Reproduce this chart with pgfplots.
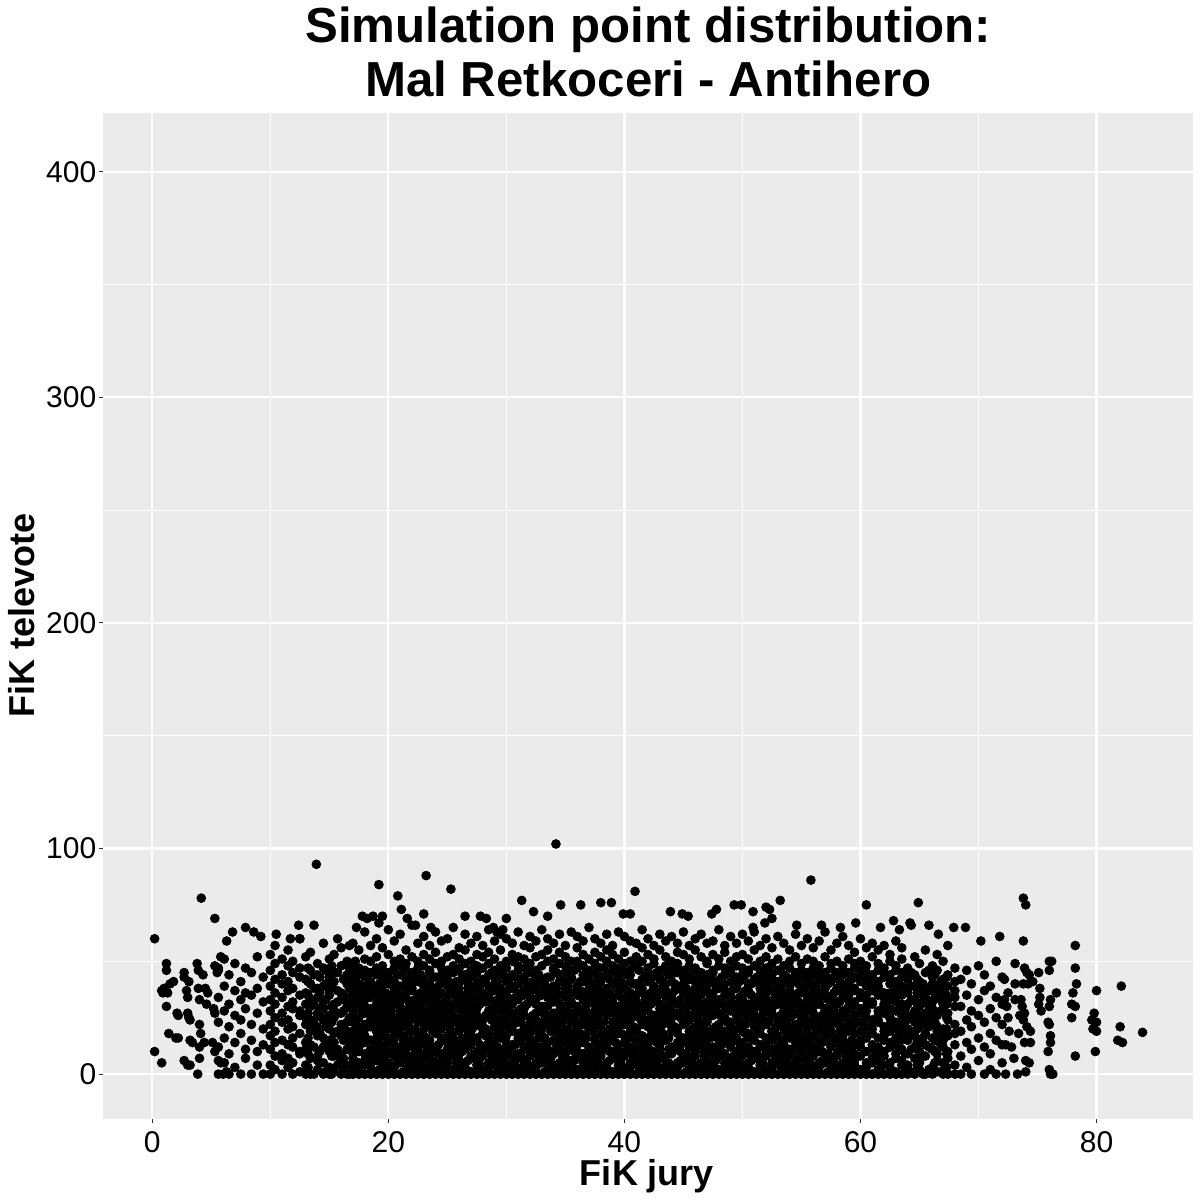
\documentclass[border=0pt]{standalone}
\usepackage{fontspec}
\setmainfont{Liberation Sans}
\usepackage{pgfplots}
\pgfplotsset{compat=1.18}
\usepackage{pgfplotstable}
\definecolor{panel}{HTML}{EBEBEB}
\definecolor{tickc}{HTML}{333333}
\pgfplotsset{pt/.style={only marks, mark=*, mark size=2.2pt, draw=black, fill=black, mark options={draw=black, fill=black}}}
% dense core of the cloud, x 17 to 63.5
\pgfplotstableread{
x a1 a2 a3 a4 a5 a6 a7 a8 a9 a10 a11 a12 a13 a14 a15 a16 a17 a18
17.0 0 3 7 9 13 16 19 23 26 28 32 35 38 42 45 49 58 0
17.5 0 2 5 10 12 15 18 21 25 29 31 34 37 40 44 47 55 0
18.0 0 4 6 9 14 17 20 22 27 30 33 36 39 43 46 51 63 0
18.5 0 3 5 8 11 15 21 24 26 29 34 37 40 41 45 50 57 0
19.0 0 1 6 10 13 16 19 23 25 28 31 35 38 44 47 52 60 0
19.5 0 4 7 11 12 17 18 22 27 30 33 36 39 42 46 48 56 0
20.0 0 2 5 9 14 15 20 24 26 29 32 34 40 43 45 53 64 0
20.5 0 3 8 10 13 16 19 21 25 31 33 37 38 41 47 50 59 0
21.0 0 5 6 9 12 18 20 23 28 30 32 35 39 44 48 51 62 0
21.5 0 2 7 11 14 17 21 22 24 27 34 36 40 42 46 49 55 0
22.0 0 4 5 8 13 15 19 25 26 29 31 37 38 43 45 52 66 0
22.5 0 3 6 10 12 16 18 23 27 30 33 35 41 44 47 50 58 0
23.0 0 1 7 9 14 17 20 22 25 28 32 36 39 42 48 53 61 0
23.5 0 4 8 11 13 15 21 24 26 31 34 37 40 45 46 51 57 0
24.0 0 2 5 10 12 18 19 23 28 29 33 35 38 43 49 54 63 0
24.5 0 3 6 9 15 16 20 22 25 30 31 36 41 44 47 50 59 0
25.0 0 5 7 11 14 17 21 24 27 28 32 34 39 42 46 52 60 0
25.5 0 2 8 10 13 16 18 23 26 30 35 37 40 45 48 53 65 0
26.0 0 4 6 9 12 19 20 22 25 29 33 36 38 41 47 51 56 0
26.5 0 3 5 11 14 15 21 24 27 31 32 35 42 44 49 55 62 0
27.0 0 1 7 8 13 17 19 23 28 30 34 37 39 43 46 50 58 0
27.5 0 4 6 10 15 16 22 25 26 29 31 38 40 45 48 53 61 0
28.0 0 2 8 9 12 18 20 21 24 32 33 36 41 42 47 52 57 0
28.5 0 3 5 11 14 17 19 26 27 28 35 34 39 44 49 54 64 0
29.0 0 5 7 10 13 15 21 23 25 31 32 37 40 43 46 51 59 0
29.5 0 2 6 9 16 18 20 24 28 30 33 36 38 45 48 55 62 0
30.0 0 4 8 12 14 17 22 22 26 29 34 35 41 42 47 50 60 0
30.5 0 3 5 10 13 19 21 25 27 31 32 38 39 44 50 53 58 0
31.0 0 1 7 9 15 16 18 23 24 28 33 36 40 46 48 52 63 0
31.5 0 4 6 11 12 17 20 26 29 30 35 37 42 43 47 51 57 0
32.0 0 2 8 10 14 18 19 22 25 32 34 36 39 45 49 56 61 0
32.5 0 3 5 9 13 15 21 24 27 31 33 38 41 44 46 52 59 0
33.0 0 5 7 12 16 17 20 23 28 29 30 35 40 42 48 53 64 0
33.5 0 2 6 8 11 14 22 25 26 30 34 37 38 43 50 55 60 0
34.0 0 4 9 10 15 19 21 24 27 32 33 36 39 46 47 51 58 0
34.5 0 3 5 11 13 16 18 22 25 28 31 35 41 44 49 54 62 0
35.0 0 1 7 9 14 17 20 26 29 30 34 38 40 45 48 52 57 0
35.5 0 4 6 12 15 18 23 24 27 31 32 36 42 43 46 50 63 0
36.0 0 2 8 10 13 16 19 21 28 30 35 37 39 47 50 56 61 0
36.5 0 3 5 9 14 17 22 25 26 29 33 36 41 44 48 53 59 0
37.0 0 5 7 11 12 19 20 23 27 32 34 38 40 42 46 51 65 0
37.5 0 2 6 10 15 16 21 24 25 28 31 35 39 45 49 54 60 0
38.0 0 4 8 9 13 18 22 22 29 30 33 37 41 43 47 52 58 0
38.5 0 3 5 12 14 17 19 26 27 31 36 36 38 44 50 55 62 0
39.0 0 1 7 10 16 15 20 23 28 29 32 34 40 46 48 53 57 0
39.5 0 4 6 11 13 18 21 25 24 30 35 37 42 43 47 51 63 0
40.0 0 2 9 8 14 17 23 22 26 32 33 38 39 45 49 54 61 0
40.5 0 3 5 10 12 16 19 24 28 31 34 36 41 44 46 50 59 0
41.0 0 5 7 11 15 19 20 26 27 29 32 35 40 47 48 52 58 0
41.5 0 2 6 9 13 17 22 23 25 30 36 37 38 42 50 56 64 0
42.0 0 4 8 12 14 16 21 24 28 31 33 34 41 45 47 53 60 0
42.5 0 3 5 10 15 18 19 22 26 32 35 38 39 44 49 51 57 0
43.0 0 1 7 11 13 17 20 25 27 29 31 36 42 43 46 55 62 0
43.5 0 4 6 8 16 15 23 24 29 30 34 37 40 46 48 52 59 0
44.0 0 2 9 10 12 19 21 22 25 28 33 35 41 44 47 50 61 0
44.5 0 3 5 11 14 18 20 26 27 31 32 38 39 45 49 54 58 0
45.0 0 5 7 9 15 16 22 23 28 30 36 37 40 43 46 53 63 0
45.5 0 2 6 12 13 17 19 24 26 32 34 35 42 44 48 51 57 0
46.0 0 4 8 10 14 18 21 25 27 29 33 38 41 46 47 55 60 0
46.5 0 3 5 11 16 15 20 22 28 31 35 36 39 43 45 52 62 0
47.0 0 1 7 9 13 19 23 24 25 30 32 37 40 44 49 50 58 0
47.5 0 4 6 10 12 17 20 26 29 28 34 36 42 45 46 53 59 0
48.0 0 2 8 11 15 16 22 21 27 31 33 38 39 41 48 51 64 0
48.5 0 3 5 9 14 18 19 25 24 30 35 37 40 44 47 54 57 0
49.0 0 5 7 12 13 17 21 23 28 32 34 36 41 45 46 50 61 0
49.5 0 2 6 10 16 15 20 24 26 29 31 38 39 43 48 52 58 0
50.0 0 4 8 11 14 19 22 22 27 30 33 35 42 44 47 53 62 0
50.5 0 3 5 9 12 16 18 25 28 31 36 37 40 46 45 51 59 0
51.0 0 1 7 10 15 17 21 23 26 29 32 34 41 42 48 55 63 0
51.5 0 4 6 12 13 18 20 24 25 30 35 38 39 44 46 50 57 0
52.0 0 2 9 8 14 16 23 22 28 32 33 36 40 43 47 52 60 0
52.5 0 3 5 11 15 19 19 26 27 29 31 37 42 45 44 49 56 0
53.0 0 5 7 10 12 17 22 24 25 31 34 35 38 41 46 51 61 0
53.5 0 2 6 9 13 15 20 23 28 30 33 36 40 44 43 48 58 0
54.0 0 4 8 11 16 18 21 25 26 29 32 37 39 42 47 50 55 0
54.5 0 3 5 12 14 17 19 22 27 31 35 34 41 45 44 52 62 0
55.0 0 1 7 10 13 16 23 24 25 28 30 36 38 43 46 49 57 0
55.5 0 4 6 9 15 18 20 21 29 32 33 35 40 41 45 51 60 0
56.0 0 2 8 11 12 17 22 26 27 30 34 37 39 44 47 50 56 0
56.5 0 3 5 10 14 19 21 23 24 31 32 36 42 43 46 48 59 0
57.0 0 5 7 9 16 15 20 25 28 29 35 38 40 45 44 52 63 0
57.5 0 2 6 12 13 18 19 22 26 30 33 34 41 42 47 49 55 0
58.0 0 4 9 8 14 16 23 24 27 32 31 37 38 43 45 50 58 0
58.5 0 3 5 11 15 17 21 25 25 28 34 36 39 44 46 48 61 0
59.0 0 1 7 10 12 19 20 22 29 30 33 35 40 41 45 51 57 0
59.5 0 4 6 9 13 18 22 24 26 31 32 37 38 43 47 49 54 0
60.0 0 2 8 12 14 15 19 23 27 29 34 36 41 44 46 50 60 0
60.5 0 3 5 10 16 17 21 25 28 30 33 35 39 42 45 48 56 0
61.0 0 5 7 11 13 18 20 22 24 31 32 37 40 43 44 52 58 0
61.5 0 2 6 9 12 16 23 24 26 28 35 38 39 41 46 49 55 0
62.0 0 4 8 10 15 17 19 21 27 30 31 34 36 45 43 47 57 0
62.5 0 3 5 12 14 19 22 25 25 29 33 36 40 42 44 50 53 0
63.0 0 1 7 9 13 16 20 23 28 32 34 37 38 41 46 48 59 0
63.5 0 4 6 11 15 18 21 24 26 30 31 35 39 43 45 51 56 0
}\coreA
% densest part, x 19.25 to 59.25
\pgfplotstableread{
x f1 f2 f3 f4 f5 f6 f7
19.25 2 8 14 20 26 33 40
19.75 5 11 17 24 30 36 43
20.25 3 10 16 22 28 35 41
20.75 6 12 19 25 31 38 44
21.25 1 9 15 21 27 34 39
21.75 4 7 13 23 29 32 42
22.25 2 11 14 20 25 33 41
22.75 5 8 17 24 31 36 44
23.25 3 12 16 22 28 34 40
23.75 6 10 19 26 30 38 43
24.25 1 9 13 21 27 35 39
24.75 4 7 15 23 29 32 42
25.25 2 8 18 20 26 37 45
25.75 5 11 14 24 32 36 41
26.25 3 10 16 22 28 33 44
26.75 6 12 19 25 30 38 40
27.25 1 9 15 21 27 34 43
27.75 4 7 13 23 31 35 39
28.25 2 11 17 20 26 32 42
28.75 5 8 14 24 29 37 45
29.25 3 12 18 22 28 33 41
29.75 6 10 16 26 30 36 44
30.25 1 9 19 21 32 38 40
30.75 4 7 13 25 27 34 43
31.25 2 8 15 23 29 35 42
31.75 5 11 17 20 31 39 46
32.25 3 12 14 24 26 33 41
32.75 6 10 18 22 28 36 44
33.25 1 9 16 26 30 37 40
33.75 4 7 19 21 32 34 43
34.25 2 11 13 25 27 38 45
34.75 5 8 15 23 29 35 42
35.25 3 12 17 20 31 33 39
35.75 6 10 14 24 26 36 46
36.25 1 9 18 22 28 37 41
36.75 4 7 16 26 30 34 44
37.25 2 8 19 21 32 38 40
37.75 5 11 13 25 27 35 43
38.25 3 12 15 23 29 33 47
38.75 6 10 17 20 31 36 42
39.25 1 9 14 24 26 39 45
39.75 4 7 18 22 28 34 41
40.25 2 11 16 26 30 37 44
40.75 5 8 19 21 32 35 40
41.25 3 12 13 25 27 38 46
41.75 6 10 15 23 29 33 43
42.25 1 9 17 20 31 36 42
42.75 4 7 14 24 26 34 45
43.25 2 8 18 22 28 39 41
43.75 5 11 16 26 30 35 44
44.25 3 12 19 21 32 37 40
44.75 6 10 13 25 27 33 46
45.25 1 9 15 23 29 38 43
45.75 4 7 17 20 31 36 42
46.25 2 11 14 24 26 34 45
46.75 5 8 18 22 28 37 41
47.25 3 12 16 26 30 35 44
47.75 6 10 19 21 32 39 40
48.25 1 9 13 25 27 33 43
48.75 4 7 15 23 29 36 46
49.25 2 8 17 20 31 38 42
49.75 5 11 14 24 26 34 41
50.25 3 12 18 22 28 37 44
50.75 6 10 16 26 30 35 40
51.25 1 9 19 21 32 33 43
51.75 4 7 13 25 27 36 42
52.25 2 11 15 23 29 38 45
52.75 5 8 17 20 31 34 41
53.25 3 12 14 24 26 37 39
53.75 6 10 18 22 28 35 43
54.25 1 9 16 26 30 33 42
54.75 4 7 19 21 32 36 40
55.25 2 8 13 25 27 38 44
55.75 5 11 15 23 29 34 41
56.25 3 12 17 20 31 37 39
56.75 6 10 14 24 26 35 42
57.25 1 9 18 22 28 33 40
57.75 4 7 16 26 30 36 43
58.25 2 11 19 21 32 38 41
58.75 5 8 13 25 27 34 39
59.25 3 12 15 23 29 37 42
}\coreF
% shoulders, x 10 to 16.5 and 64 to 68
\pgfplotstableread{
x b1 b2 b3 b4 b5 b6 b7 b8 b9 b10
10.0 0 4 11 17 22 28 33 39 46 53
10.4 2 8 14 19 25 31 36 42 49 57
11.0 0 6 9 15 23 27 34 40 44 51
11.5 3 7 13 20 24 30 37 41 48 55
11.9 0 5 12 16 21 29 32 38 45 50
12.5 1 9 10 18 26 28 35 43 47 60
13.0 0 4 11 14 22 25 31 36 42 52
13.4 0 7 13 19 23 30 33 40 46 54
14.0 2 6 8 17 21 27 34 38 44 49
14.5 0 5 12 16 24 29 32 39 47 58
15.0 0 3 10 15 20 26 35 37 43 51
15.4 1 8 14 18 25 28 31 41 45 53
16.0 0 6 9 17 22 27 33 36 48 56
16.5 0 4 11 19 23 30 34 40 44 50
64.0 0 4 9 15 20 26 31 36 42 47
64.6 0 7 12 17 23 28 33 39 44 52
65.0 2 5 10 14 21 25 30 37 41 49
65.5 0 8 13 18 22 27 34 38 45 55
66.1 0 3 11 16 24 29 32 40 43 48
66.5 1 6 9 19 21 26 35 36 46 53
67.0 0 5 12 15 20 28 31 38 42 50
67.4 0 7 10 17 24 27 33 39 44 57
68.0 0 4 13 18 22 30 34 37 41 47
}\shoulderB
% transition between shoulders and core
\pgfplotstableread{
x e1 e2 e3 e4 e5 e6 e7
13.2 3 9 16 27 35 41 47
13.7 0 12 20 24 31 38 44
14.2 5 10 18 26 29 36 43
14.7 1 14 21 25 33 40 46
15.2 0 8 13 23 30 39 48
15.7 4 11 19 27 32 37 45
16.2 2 7 15 21 28 35 42
16.7 0 13 17 25 33 38 47
17.2 5 10 20 29 34 41 50
63.8 3 9 17 23 29 38 44
64.3 1 11 19 25 33 39 45
64.8 4 14 20 27 31 36 42
65.3 0 8 16 24 32 35 40
65.8 2 12 21 26 30 37 46
66.3 5 10 15 23 34 39 44
66.8 1 13 18 28 33 36 41
67.3 3 9 20 25 31 35 43
}\transE
% sparse flanks, x 5.6 to 9.4 and 68.5 to 72
\pgfplotstableread{
x c1 c2 c3 c4 c5
5.6 0 12 23 34 46
6.1 5 16 28 39 51
6.5 0 9 21 31 44
7.0 3 14 26 37 49
7.5 0 18 24 33 41
7.9 7 11 29 36 47
8.4 0 15 22 35 45
8.9 4 10 27 38 52
9.4 0 13 20 32 43
68.5 0 8 19 30 42
69.0 3 14 24 35 46
69.4 0 11 21 28 40
70.0 6 16 26 33 48
70.5 0 12 23 37 44
71.0 2 9 18 29 39
71.5 0 15 25 34 50
72.0 5 13 22 31 43
}\flankC
\begin{document}
\begin{tikzpicture}
\useasboundingbox (-51.65pt,-40.5pt) rectangle (548.35pt,559.5pt);
\begin{axis}[
  at={(0pt,0pt)}, anchor=south west, scale only axis,
  width=545pt, height=502.85pt,
  xmin=-4.15, xmax=88.2, ymin=-19.9, ymax=425.9,
  axis background/.style={fill=panel},
  axis line style={draw=none},
  xtick={0,20,40,60,80}, ytick={0,100,200,300,400},
  minor xtick={10,30,50,70}, minor ytick={50,150,250,350},
  grid=both,
  major grid style={white, line width=1.1pt},
  minor grid style={white, line width=0.55pt},
  tick align=outside, tick pos=left,
  major tick length=2pt, minor tick length=0pt,
  tick style={tickc, line width=0.5pt},
  /pgf/number format/assume math mode=true,
  ticklabel style={font=\fontsize{15}{17}\selectfont, text=black, inner sep=0pt},
  xticklabel style={anchor=base, yshift=-14.5pt},
  yticklabel style={anchor=east, xshift=-1.3pt},
  clip=false,
]
\pgfplotsinvokeforeach{1,...,18}{
  \addplot[pt] table[x=x, y=a#1]{\coreA};
}
\pgfplotsinvokeforeach{1,...,7}{
  \addplot[pt] table[x=x, y=f#1]{\coreF};
}
\pgfplotsinvokeforeach{1,...,10}{
  \addplot[pt] table[x=x, y=b#1]{\shoulderB};
}
\pgfplotsinvokeforeach{1,...,7}{
  \addplot[pt] table[x=x, y=e#1]{\transE};
}
\pgfplotsinvokeforeach{1,...,5}{
  \addplot[pt] table[x=x, y=c#1]{\flankC};
}
% left edge points
\addplot[pt] coordinates {
(0.2,60) (0.2,10) (0.8,5) (1.2,49) (1.2,46) (0.8,37) (1.0,38) (1.3,36) (0.9,36) (1.8,41)
(1.2,30) (1.4,18) (2.1,27) (2.2,26) (2.2,16) (2.0,16) (2.7,45) (2.7,43) (2.9,37) (3.0,34)
(3.1,41) (3.0,27) (3.1,25) (3.2,24) (3.2,15) (3.4,14) (2.7,6) (3.0,4) (3.2,4) (3.8,49)
(3.9,46) (3.9,38) (4.0,33) (3.85,0) (4.15,78) (4.0,22) (4.1,18) (4.0,12) (4.0,7) (4.4,14)
(4.5,38) (4.7,36) (4.6,31) (5.3,69) (5.8,52) (6.3,59) (6.8,63) (5.3,48) (5.5,45) (5.6,47)
(5.2,29) (5.3,27) (5.1,14) (5.3,10) (5.6,6) (5.8,5) (6.0,0) (6.3,1) (1.5,40) (4.3,44)
};
% upper fringe and outliers
\addplot[pt] coordinates {
(7.9,65) (8.6,63) (9.2,61) (10.5,62) (11.7,60) (12.4,66) (12.5,60) (13.7,66) (13.9,93) (15.7,60)
(16.7,57) (17.3,65) (17.8,70) (18.2,69) (18.7,70) (19.2,84) (19.2,67) (19.5,70) (20.8,79) (21.1,73)
(21.6,69) (22.3,66) (23.0,71) (23.2,88) (23.6,65) (25.3,82) (26.5,70) (27.8,70) (28.3,69) (28.9,65)
(29.2,63) (29.7,64) (30.0,69) (31.3,77) (32.3,72) (33.5,70) (34.2,102) (34.6,75) (36.3,75) (38.0,76)
(38.9,76) (39.9,71) (40.5,71) (40.9,81) (43.9,72) (44.9,71) (45.4,70) (47.4,71) (47.8,73) (49.3,75)
(49.9,75) (50.9,72) (50.9,65) (51.9,67) (52.0,74) (52.3,73) (52.5,69) (53.2,77) (54.6,66) (55.8,86)
(56.7,66) (58.3,65) (59.6,67) (60.5,75) (61.7,65) (62.8,68) (63.3,64) (64.2,67) (64.3,66) (64.9,76)
(65.8,66) (66.6,62) (67.9,65) (68.9,65) (70.2,59) (71.8,61) (73.8,78) (74.0,75) (73.8,59)
};
% right edge points
\addplot[pt] coordinates {
(72.3,0) (72.5,36) (72.2,33) (72.4,30) (72.5,25) (72.6,19) (72.3,13) (72.8,12) (73.0,7) (72.2,42)
(73.1,49) (73.1,40) (73.1,33) (73.4,18) (73.5,26) (73.3,0) (74.0,1) (73.6,33) (73.7,30) (73.9,27)
(73.8,24) (74.1,21) (74.4,19) (73.9,14) (74.4,14) (74.0,6) (74.3,5) (73.9,47) (74.1,45) (74.3,44)
(74.6,41) (73.8,40) (74.2,40) (75.1,45) (75.2,38) (75.2,34) (75.1,31) (75.3,28) (76.0,50) (76.2,50)
(76.0,46) (76.6,36) (76.1,33) (76.0,30) (75.9,23) (76.0,22) (76.1,17) (76.1,14) (75.9,10) (76.0,2)
(76.3,0) (76.1,0) (78.2,57) (78.2,47) (78.3,40) (78.0,36) (77.9,31) (78.2,30) (77.9,25) (78.2,8)
(80.0,37) (79.8,27) (79.6,24) (80.0,23) (79.7,20) (80.0,19) (79.9,10) (82.1,39) (82.0,21) (81.8,15)
(82.2,14) (83.9,18.5)
};
\end{axis}
\node[anchor=base, font=\fontsize{24.6}{29}\selectfont\bfseries] at (272.5pt,538pt) {Simulation point distribution:};
\node[anchor=base, font=\fontsize{24.6}{29}\selectfont\bfseries] at (272.5pt,511pt) {Mal Retkoceri - Antihero};
\node[anchor=base, font=\fontsize{18}{21}\selectfont\bfseries] at (271.85pt,-33pt) {FiK jury};
\node[rotate=90, anchor=base, font=\fontsize{18}{21}\selectfont\bfseries] at (-34.15pt,252pt) {FiK televote};
\end{tikzpicture}
\end{document}
